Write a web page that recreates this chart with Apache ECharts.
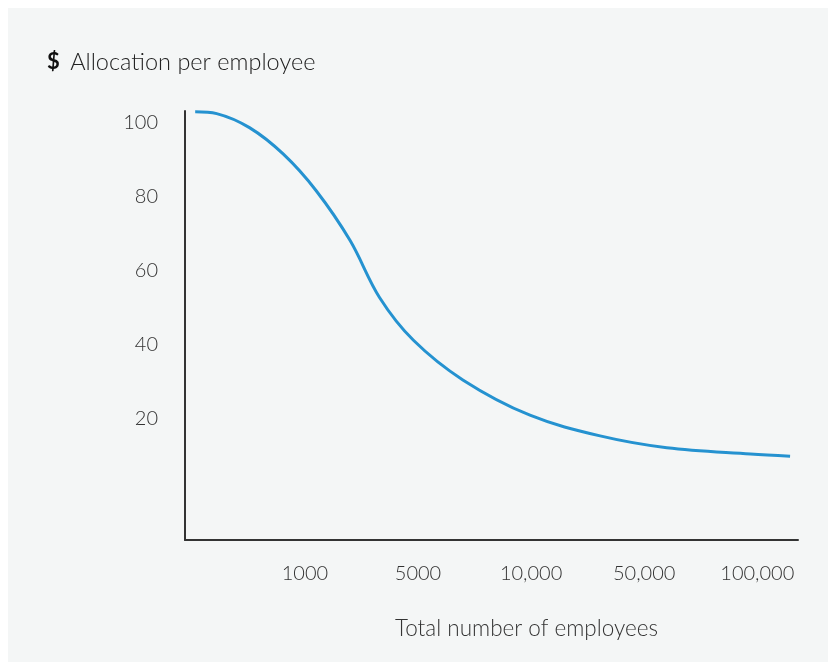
<!DOCTYPE html>
<html>
<head>
<meta charset="utf-8">
<script src="https://cdn.jsdelivr.net/npm/echarts@6/dist/echarts.min.js"></script>
<style>
    html, body { margin: 0; padding: 0; background: #ffffff; }
    #panel { position: absolute; left: 8px; top: 8px; width: 820px; height: 654px; background: #f4f6f6; }
    #main { position: absolute; left: 0; top: 0; width: 828px; height: 664px; }
</style>
</head>
<body>
<div id="panel"></div>
<div id="main"></div>
<script>
// x positions: 1..5 are the labelled employee counts
var tickPos = [1, 2, 3, 4, 5];
var tickLabels = ['1000', '5000', '10,000', '50,000', '100,000'];
var yTicks = [20, 40, 60, 80, 100];

// curve (x in label units, y in $)
var curveX = [0.03, 0.22, 0.51, 0.81, 1.10, 1.40, 1.66, 1.96, 2.40, 2.99, 3.61, 4.20, 4.94, 5.29];
var curveY = [103.0, 102.5, 98.7, 91.5, 81.6, 68.1, 52.7, 41.1, 30.3, 20.8, 15.2, 12.0, 10.3, 9.7];

var points = [];
for (var i = 0; i < curveX.length; i++) {
    points.push([curveX[i], curveY[i]]);
}

var chart = echarts.init(document.getElementById('main'));

var option = {
    backgroundColor: 'transparent',
    animation: false,
    textStyle: { fontFamily: 'Lato' },
    title: {
        text: '{b|$} {t|Allocation per employee}',
        left: 42,
        top: 45,
        textStyle: {
            rich: {
                b: { fontFamily: 'Lato', fontWeight: 'bold', fontSize: 22, color: '#111', padding: [0, 6, 0, 0] },
                t: { fontFamily: 'Lato', fontWeight: 300, fontSize: 23.5, color: '#222' }
            }
        }
    },
    grid: {
        left: 185,
        right: 30,
        top: 111,
        bottom: 124
    },
    xAxis: {
        type: 'value',
        min: -0.06,
        max: 5.36,
        name: 'Total number of employees',
        nameLocation: 'middle',
        nameGap: 77,
        nameTextStyle: { fontFamily: 'Lato', fontWeight: 300, fontSize: 22.5, color: '#333', padding: [0, 0, 0, 70] },
        axisLine: { show: true, onZero: false, lineStyle: { color: '#333', width: 2 } },
        axisTick: { show: false },
        splitLine: { show: false },
        axisLabel: {
            customValues: tickPos,
            margin: 24,
            fontFamily: 'Lato',
            fontWeight: 300,
            fontSize: 20,
            color: '#333',
            formatter: function (v) {
                var idx = tickPos.indexOf(Math.round(v));
                return idx >= 0 ? tickLabels[idx] : '';
            }
        }
    },
    yAxis: {
        type: 'value',
        min: -13,
        max: 103.2,
        axisLine: { show: true, onZero: false, lineStyle: { color: '#333', width: 2 } },
        axisTick: { show: false },
        splitLine: { show: false },
        axisLabel: {
            customValues: yTicks,
            margin: 27,
            fontFamily: 'Lato',
            fontWeight: 300,
            fontSize: 20,
            color: '#333'
        }
    },
    series: [{
        type: 'line',
        data: points,
        smooth: 0.35,
        showSymbol: false,
        lineStyle: { color: '#2592d0', width: 3 }
    }]
};

chart.setOption(option);
</script>
</body>
</html>
